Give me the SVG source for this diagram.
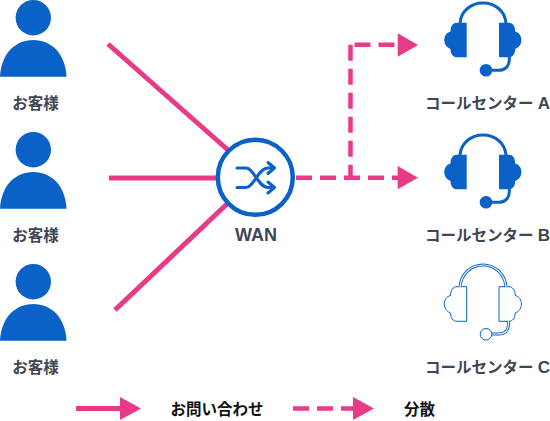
<svg xmlns="http://www.w3.org/2000/svg" xmlns:xlink="http://www.w3.org/1999/xlink" width="550" height="421" viewBox="0 0 550 421">
<style>
text{font-family:"Liberation Sans","Noto Sans CJK JP",sans-serif;font-weight:700;font-size:15.500px;fill:#3f4653;text-anchor:middle}
tspan{font-size:17px}
.k{fill:#111}
.e{text-anchor:end}
.p{fill:none;stroke:#e93a88;stroke-width:5}
.d{stroke-dasharray:16 8;stroke-width:4.500}
.h{fill:#e93a88}
.b{fill:#0a62c9}
.s{fill:none;stroke:#0a62c9;stroke-width:3;stroke-linecap:round;stroke-linejoin:round}
</style>
<defs>
<g id="person"><circle class="b" cx="33.300" cy="17.700" r="17.700"/><path class="b" d="M0 76.700C1 54 15 40 33.300 40S65.500 54 66.500 76.700Z"/></g>
<path id="cup" d="M466.700 22.700V57.300H457C453 57.300 450.500 54 450.500 49C446.500 47.500 444.300 44 444.300 40C444.300 36 446.500 32.500 450.500 31.500C450.500 26 453 22.700 457 22.700Z"/>
<g id="headsetFill">
<use xlink:href="#cup" class="b"/><use xlink:href="#cup" class="b" transform="matrix(-1 0 0 1 965.700 0)"/>
<path class="s" d="M460 23C461 11 471 3 483 3S505 11 506 23M509.300 57V60C509.300 66 505 70.300 499 70.300H490"/><circle class="b" cx="486" cy="70.300" r="6.300"/>
</g>
</defs>
<g id="connectors">
<path class="p" d="M108 44L228 150"/><path class="p" d="M109 178H218"/><path class="p" d="M115 310L228 203"/>
<path class="p d" d="M296 177.800H400"/><path class="p d" d="M350.500 44.700V178"/><path class="p d" d="M354.500 44.700H394.500"/>
<path class="h" d="M397.700 33.300L418 44.900L397.700 56.700Z"/><path class="h" d="M397.700 166L418 177.700L397.700 189.300Z"/>
</g>
<g id="customer1"><use xlink:href="#person"/><text x="35.500" y="108.500">お客様</text></g>
<g id="customer2"><use xlink:href="#person" y="132"/><text x="35.500" y="240.500">お客様</text></g>
<g id="customer3"><use xlink:href="#person" y="264"/><text x="35.500" y="372.500">お客様</text></g>
<g id="wan"><circle cx="255.300" cy="177.300" r="37.500" fill="#fff" stroke="#0a62c9" stroke-width="4.500"/>
<path class="s" d="M237 168H246C254 168 258 187.500 268 187.500H274M237 187.500H246C254 187.500 258 168 268 168H274M268 162.500L274.500 168L268 173.500M268 182L274.500 187.500L268 193"/>
<text x="256" y="241" style="font-size:18px">WAN</text></g>
<g id="centerA"><use xlink:href="#headsetFill"/><text class="e" x="550" y="108.500">コールセンター <tspan>A</tspan></text></g>
<g id="centerB"><use xlink:href="#headsetFill" y="132"/><text class="e" x="550" y="240.500">コールセンター <tspan>B</tspan></text></g>
<g id="centerC">
<use xlink:href="#cup" y="264" fill="#fff" stroke="#0a62c9" stroke-width="1"/>
<use xlink:href="#cup" transform="matrix(-1 0 0 1 965.700 264)" fill="#fff" stroke="#0a62c9" stroke-width="1"/>
<path d="M460 287C461 274 471 265 483 265S505 274 506 287M508.500 321V324C508.500 330 505 334 499 334H492" fill="none" stroke="#0a62c9" stroke-width="3"/>
<path d="M460 287C461 274 471 265 483 265S505 274 506 287M508.500 321V324C508.500 330 505 334 499 334H492" fill="none" stroke="#fff" stroke-width="1.200"/>
<circle cx="486" cy="334.300" r="5.800" fill="#fff" stroke="#0a62c9" stroke-width="1"/>
<text class="e" x="550" y="372.500">コールセンター <tspan>C</tspan></text></g>
<g id="legend">
<path class="p" d="M76 408.500H122"/><path class="h" d="M120 397L141 408.500L120 420Z"/>
<text class="k" x="217" y="414.500">お問い合わせ</text>
<path class="p d" d="M293 408.500H355"/><path class="h" d="M353 397L374 408.500L353 420Z"/>
<text class="k" x="419.500" y="414.500">分散</text>
</g>
</svg>
